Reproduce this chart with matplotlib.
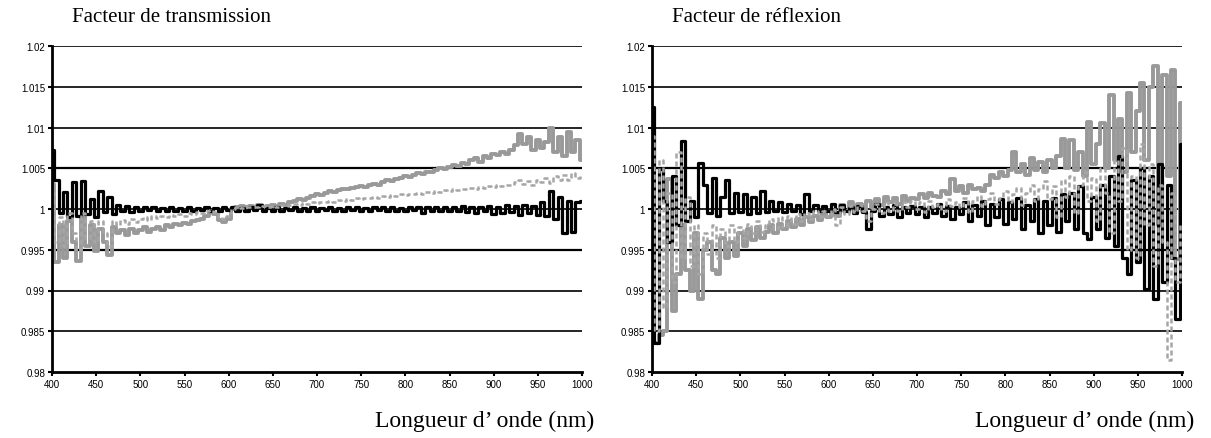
import numpy as np
import matplotlib
matplotlib.use("Agg")
import matplotlib.pyplot as plt
from matplotlib.ticker import FixedLocator, FixedFormatter

# wavelength grid (nm), 5 nm step
wl = list(range(400, 1001, 5))

# values are deviations from 1, in units of 1e-4
# --- Facteur de transmission
t_black = [72, 35, -5, 21, -10, 33, -8, 34, -6, 12,
           -10, 22, -4, 15, -6, 5, -3, 4, -4, 3,
           -2, 2, -1, 2, -2, 1, -2, 3, -2, 1,
           -2, 2, -2, 1, -1, 2, -2, 1, -2, 2,
           -1, 2, -2, 1, -2, 3, -1, 5, -2, 1,
           -2, 2, -2, 1, -1, 2, -2, 1, -2, 2,
           -2, 1, -1, 2, -2, 1, -2, 2, -1, 2,
           -2, 1, -2, 2, -1, 2, -2, 3, -2, 1,
           -2, 3, -1, 3, -5, 2, -3, 3, -2, 2,
           -3, 3, -2, 4, -4, 3, -5, 3, -3, 4,
           -6, 3, -5, 5, -4, 4, -7, 5, -5, 4,
           -7, 8, -8, 22, -12, 15, -30, 10, -28, 8,
           10]
t_gray = [31, -65, -20, -60, -15, -40, -64, -10, -45, -20,
          -52, -25, -40, -56, -22, -30, -26, -32, -24, -30,
          -26, -22, -28, -24, -22, -26, -20, -22, -18, -20,
          -17, -19, -15, -14, -12, -8, -3, -6, -14, -16,
          -12, 0, 3, 4, 2, 4, 3, 5, 3, 4,
          5, 3, 6, 5, 8, 10, 12, 11, 14, 16,
          18, 17, 20, 22, 21, 23, 25, 24, 26, 27,
          28, 27, 30, 31, 30, 33, 35, 34, 37, 38,
          40, 39, 42, 44, 43, 46, 45, 48, 50, 49,
          52, 54, 53, 57, 55, 60, 62, 58, 65, 63,
          67, 66, 70, 68, 72, 78, 92, 80, 88, 72,
          85, 75, 82, 100, 70, 88, 65, 95, 70, 85,
          60]
t_dash = [20, -40, -10, -45, -5, -30, -50, -5, -35, -15,
          -40, -15, -30, -45, -15, -20, -14, -18, -12, -16,
          -12, -10, -14, -9, -11, -8, -10, -7, -9, -6,
          -8, -5, -6, -4, -5, -3, -1, -4, -10, -12,
          -8, 0, 2, 1, 3, 2, 3, 2, 4, 3,
          4, 3, 5, 4, 5, 6, 5, 7, 6, 8,
          7, 9, 8, 10, 9, 11, 10, 12, 11, 13,
          12, 14, 13, 15, 14, 16, 15, 17, 16, 18,
          17, 19, 18, 20, 19, 21, 20, 22, 21, 23,
          22, 24, 23, 25, 24, 26, 25, 27, 26, 28,
          27, 29, 28, 30, 29, 33, 35, 31, 34, 30,
          36, 33, 38, 32, 40, 35, 42, 36, 44, 38,
          42]

# --- Facteur de réflexion
r_black = [125, -165, 49, 10, -40, 40, -20, 84, -15, 10,
           -10, 57, 30, -5, 38, -8, 15, 35, -5, 20,
           -4, 18, -6, 15, -5, 22, -4, 10, -3, 8,
           -4, 6, -2, 5, -6, 18, -3, 5, -2, 4,
           -3, 6, -4, 5, -2, 3, -5, 4, -4, -25,
           -3, 6, -8, 2, -6, 5, -10, 3, -5, 4,
           -6, 3, -10, 2, -5, 6, -8, 4, -12, 3,
           -6, 8, -15, 5, -8, 10, -20, 6, -10, 12,
           -18, 8, -12, 14, -25, 5, -15, 12, -30, 10,
           -20, 14, -28, 18, -15, 20, -25, 28, -30, -37,
           15, -25, 30, -35, 40, -45, 65, -60, -80, 35,
           -65, 50, -98, 40, -110, 55, -90, 30, -60, -135,
           80]
r_gray = [72, -165, -155, -150, 37, -125, -80, -20, -75, -100,
          -30, -110, -50, -40, -75, -80, -35, -60, -40, -58,
          -30, -45, -25, -38, -22, -35, -28, -20, -30, -18,
          -25, -15, -22, -12, -20, -10, -16, -8, -14, -5,
          -10, -2, -8, 5, -3, 8, 0, 6, -2, 10,
          2, 12, 5, 15, 8, 14, 6, 16, 10, 14,
          12, 18, 14, 20, 16, 15, 22, 18, 37, 22,
          28, 20, 30, 24, 26, 22, 30, 42, 38, 45,
          40, 48, 70, 45, 55, 42, 62, 48, 58, 45,
          60, 50, 65, 86, 50, 85, 48, 70, 40, 107,
          55, 80, 105, 50, 140, 60, 110, 45, 142, 70,
          120, 155, 60, 150, 175, -20, 165, 40, 170, -61,
          130]
r_dash = [90, -150, 60, -120, 20, -90, 70, -60, 15, -70,
          -20, -80, -30, -55, -20, -60, -25, -45, -20, -40,
          -22, -35, -18, -30, -15, -28, -20, -12, -25, -10,
          -22, -8, -18, -6, -15, -5, -12, -3, -10, -2,
          -8, 0, -20, 2, -6, 4, -4, 5, -3, -15,
          0, 6, -5, 8, -3, 6, -2, 8, 2, 10,
          0, 8, -4, 10, 2, 6, -2, 12, 4, 8,
          2, 14, -4, 10, 16, 4, 12, 20, 6, 14,
          22, 8, 18, 26, 5, 20, 30, 10, 24, 34,
          12, 28, -10, 36, 15, 40, -5, 30, 45, 10,
          38, -15, 50, 20, -30, 60, 10, 75, -50, 40,
          -60, 80, -20, 55, -70, 30, -40, -185, 20, -90,
          -20]

yticks = [0.98, 0.985, 0.99, 0.995, 1.0, 1.005, 1.01, 1.015, 1.02]
ylabels = ["0.98", "0.985", "0.99", "0.995", "1", "1.005", "1.01", "1.015", "1.02"]
xticks = list(range(400, 1001, 50))

panels = [
    ("Facteur de transmission", t_black, t_gray, t_dash),
    ("Facteur de réflexion", r_black, r_gray, r_dash),
]

fig = plt.figure(figsize=(12.11, 4.39), dpi=100)
W, H = 1211, 439
lefts = [52, 652]

x = np.array(wl)
for (title, blk, gry, dsh), lx in zip(panels, lefts):
    ax = fig.add_axes([lx / W, (H - 373) / H, 530 / W, 326 / H])
    to_val = lambda v: 1 + np.array(v) * 1e-4

    ax.plot(x, to_val(gry), color="#999999", lw=2.8, drawstyle="steps-mid", zorder=3)
    ax.plot(x, to_val(blk), color="black", lw=2.3, drawstyle="steps-mid", zorder=4)
    ax.plot(x, to_val(dsh), color="#a6a6a6", lw=1.8, ls=(0, (2, 1.2)),
            drawstyle="steps-mid", zorder=5)

    for yv in yticks[1:]:
        lw = 1.6 if yv in (0.995, 1.005) else 1.2
        ax.axhline(yv, color="black", lw=lw, zorder=1)

    ax.set_xlim(400, 1000)
    ax.set_ylim(0.98, 1.02)
    ax.xaxis.set_major_locator(FixedLocator(xticks))
    ax.xaxis.set_major_formatter(FixedFormatter([str(v) for v in xticks]))
    ax.yaxis.set_major_locator(FixedLocator(yticks))
    ax.yaxis.set_major_formatter(FixedFormatter(ylabels))
    for s in ("top", "right"):
        ax.spines[s].set_visible(False)
    for s in ("left", "bottom"):
        ax.spines[s].set_linewidth(2)
        ax.spines[s].set_zorder(6)
    ax.tick_params(axis="both", direction="out", length=3, width=1.5,
                   labelsize=7, pad=2)
    for lab in ax.get_xticklabels() + ax.get_yticklabels():
        lab.set_fontfamily("Liberation Sans")

    fig.text((lx + 20) / W, 1 - 18 / H, title, fontsize=15, va="center",
             ha="left", fontfamily="Liberation Serif")
    fig.text((lx + 542) / W, 1 - 421 / H, "Longueur d\u2019 onde (nm)",
             fontsize=17, va="center", ha="right", fontfamily="Liberation Serif")

fig.savefig("out.png", dpi=100)
